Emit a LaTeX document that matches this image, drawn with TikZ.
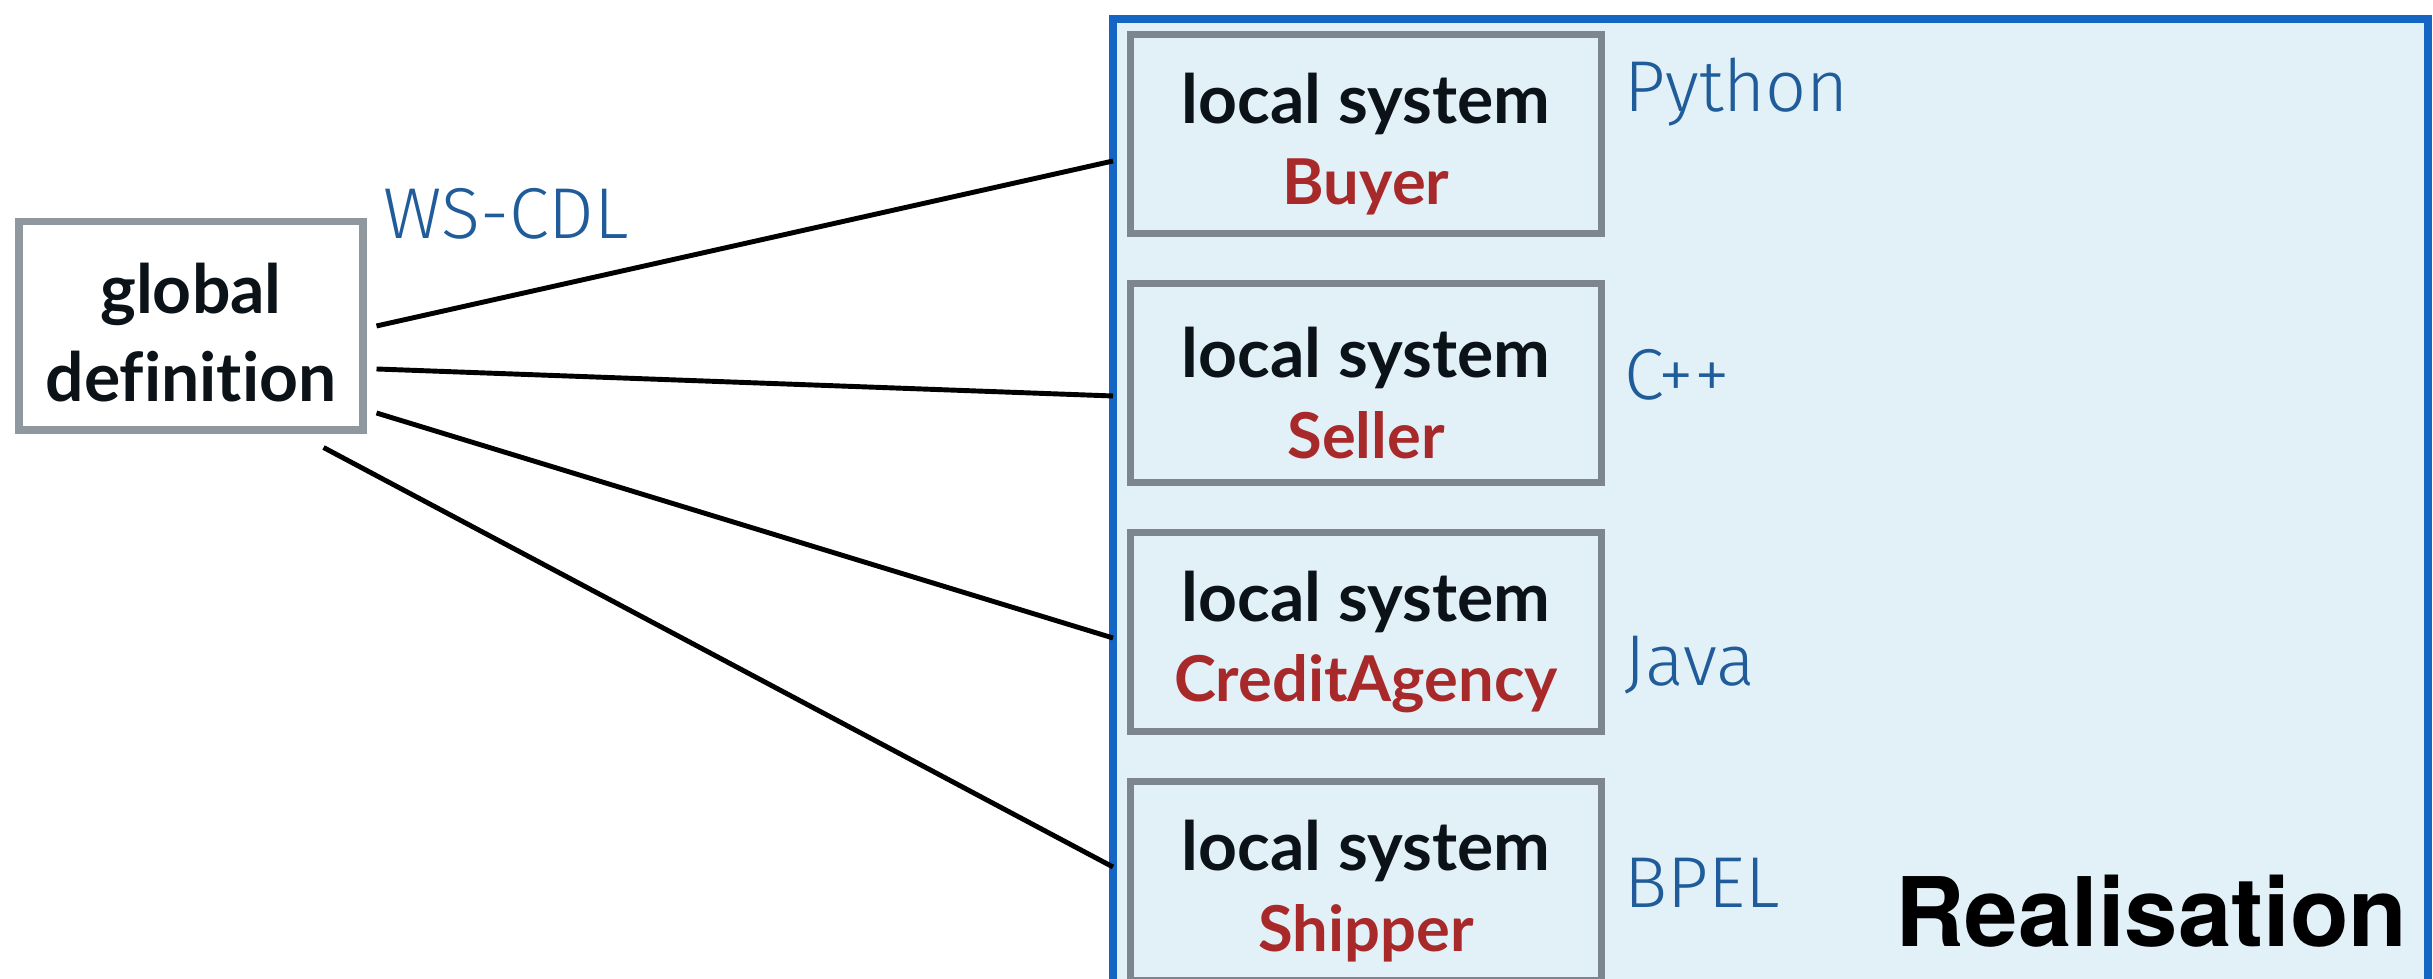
\documentclass[tikz,border=0pt]{standalone}
\usepackage{fontspec}
\setmainfont{Lato}[Ligatures=NoCommon]
\newfontfamily\langfont{Fira Sans Light}
\newfontfamily\realfont{TeX Gyre Heros}
\usetikzlibrary{calc}
\definecolor{realmfill}{HTML}{E2F0F8}
\definecolor{realmblue}{HTML}{1565C4}
\definecolor{boxgray}{HTML}{7D868E}
\definecolor{rolered}{HTML}{A8292A}
\definecolor{langblue}{HTML}{1F5C99}
\definecolor{inkblack}{HTML}{0B1218}
\newcommand{\rolename}[1]{\textcolor{rolered}{\fontsize{18}{23}\selectfont #1}}
\tikzset{
  sysbox/.style={draw=boxgray, line width=2pt, minimum width=4.71cm, minimum height=1.99cm,
    align=center, text=inkblack, font=\fontsize{19.3}{23}\selectfont\bfseries},
  lang/.style={anchor=base west, inner sep=0pt, text=langblue, font=\langfont\fontsize{20.5}{24}\selectfont},
  link/.style={line width=1.4pt}
}
\begin{document}
\begin{tikzpicture}
    \useasboundingbox (0,0) rectangle (24.33,9.79);

    \fill[realmfill] (11.13,0) rectangle (24.28,9.60);
    \draw[realmblue, line width=2.2pt] (11.13,0) -- (11.13,9.60) -- (24.28,9.60) -- (24.28,0);
    \coordinate (realm) at (11.13,9.60);

    \node[sysbox, draw=boxgray!85, fill=white, minimum width=3.44cm, minimum height=2.08cm,
      font=\fontsize{19.3}{25}\selectfont\bfseries] (glob) at (1.91,6.53) {\rule{0pt}{18pt}global\\definition};

	\foreach \i/\y/\role/\lang/\ly in {1/8.45/Buyer/Python/8.67, 2/5.96/Seller/C++/5.79,
	    3/3.47/CreditAgency/Java/2.93, 4/0.98/Shipper/BPEL/0.71}{
	   \node[sysbox] (loc\i) at (13.66,\y) {\rule{0pt}{20pt}local system\\\rolename{\role}};
	   \node[lang] (lang\i) at (16.24,\ly) {\lang};
	}

	\draw[link] ([xshift=1mm]glob.east) -- ($(realm |- loc1)+(0,-0.27)$);
	\draw[link] ([shift={(1mm,-4.3mm)}]glob.east) -- ($(realm |- loc2)+(0,-0.13)$);
	\draw[link] ([shift={(1mm,-8.7mm)}]glob.east) -- ($(realm |- loc3)+(0,-0.06)$);
	\draw[link] ([shift={(-4.3mm,-1.4mm)}]glob.south east) -- ($(realm |- loc4)+(0,0.14)$);

	\node[lang] (wscdl) at (3.83,7.40) {WS-CDL};
	\node[anchor=base east, inner sep=0pt, font=\realfont\bfseries\fontsize{27.3}{32}\selectfont] (real) at (24.08,0.32) {Realisation};
\end{tikzpicture}
\end{document}
